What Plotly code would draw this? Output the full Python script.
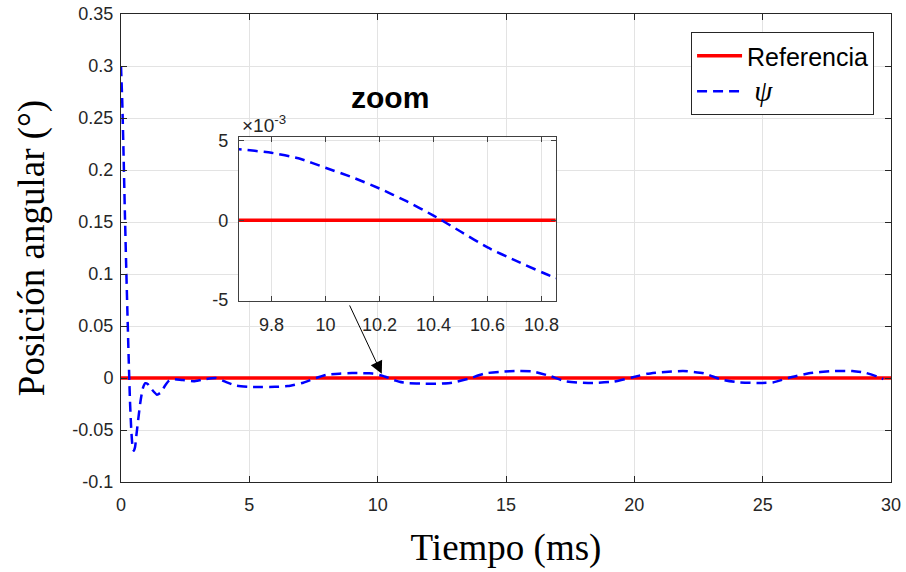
import plotly.graph_objects as go

# time (ms) and angular position (deg)
t = [0.0, 0.05, 0.1, 0.15, 0.2, 0.25, 0.3, 0.35, 0.4, 0.45, 0.5, 0.55, 0.6, 0.67,
     0.75, 0.85, 0.95, 1.05, 1.2, 1.4, 1.55, 1.7, 1.85, 2.0, 2.4, 2.9, 3.3, 3.7,
     4.1, 4.5, 5.0, 5.5, 6.0, 6.5, 7.1, 7.6, 8.0, 8.5, 9.0, 9.4, 9.68, 9.8, 9.9,
     10.0, 10.1, 10.2, 10.3, 10.4, 10.5, 10.6, 10.7, 10.85, 11.0, 11.2, 11.8,
     12.4, 12.9, 13.5, 14.2, 14.8, 15.5, 16.0, 16.7, 17.3, 17.9, 18.4, 19.2,
     19.9, 20.5, 21.0, 21.9, 22.7, 23.4, 24.0, 24.8, 25.4, 26.0, 26.8, 27.7,
     28.5, 29.0, 29.5, 29.7]
psi = [0.300, 0.265, 0.215, 0.160, 0.110, 0.063, 0.018, -0.022, -0.050, -0.066,
       -0.070, -0.066, -0.055, -0.040, -0.024, -0.010, -0.005, -0.006, -0.011,
       -0.016, -0.014, -0.008, -0.003, -0.001, -0.002, -0.003, -0.001, 0.0,
       -0.004, -0.0074, -0.0085, -0.0086, -0.0085, -0.0078, -0.0045, 0.0, 0.003,
       0.0042, 0.0047, 0.0047, 0.00446, 0.00424, 0.0039, 0.0033, 0.0027, 0.0020,
       0.0012, 0.0003, -0.0007, -0.0017, -0.0025, -0.0036, -0.0043, -0.0049,
       -0.0055, -0.0055, -0.0045, -0.001, 0.0045, 0.006, 0.0068, 0.0065, 0.002,
       -0.003, -0.0045, -0.0048, -0.0035, 0.0005, 0.004, 0.0055, 0.0067, 0.0045,
       -0.0015, -0.004, -0.0048, -0.0043, 0.0, 0.0045, 0.0067, 0.0067, 0.005,
       0.001, -0.001]
t_ref = [0, 30]
ref = [0, 0]

main_yticks = [-0.1, -0.05, 0, 0.05, 0.1, 0.15, 0.2, 0.25, 0.3, 0.35]
main_ylabels = ['-0.1', '-0.05', '0', '0.05', '0.1', '0.15', '0.2', '0.25', '0.3', '0.35']
zoom_xticks = [9.8, 10, 10.2, 10.4, 10.6, 10.8]
zoom_yticks = [-0.005, 0, 0.005]
zoom_ylabels = ['-5', '0', '5']

SANS = 'Liberation Sans, Arial'
SERIF = 'Liberation Serif, Times New Roman'
AX = '#262626'
GRID = '#e3e3e3'

fig = go.Figure()

fig.add_trace(go.Scatter(x=t_ref, y=ref, mode='lines', name='Referencia',
                         line=dict(color='#ff0000', width=3.5)))
fig.add_trace(go.Scatter(x=t, y=psi, mode='lines',
                         name='<span style="font-family:Liberation Serif;font-size:29px">'
                              '<i>\u00a0ψ</i></span>',
                         line=dict(color='#0000ff', width=2.5, dash='10px,6px',
                                   shape='spline', smoothing=0.5)))

# inset
fig.add_trace(go.Scatter(x=t_ref, y=ref, mode='lines', showlegend=False,
                         xaxis='x2', yaxis='y2', line=dict(color='#ff0000', width=3.5)))
fig.add_trace(go.Scatter(x=t, y=psi, mode='lines', showlegend=False,
                         xaxis='x2', yaxis='y2',
                         line=dict(color='#0000ff', width=2.5, dash='10px,6px',
                                   shape='spline', smoothing=0.5)))

fig.add_annotation(x=10.16, y=0.004, ax=8.88, ay=0.0712, xref='x', yref='y',
                   axref='x', ayref='y', showarrow=True, arrowhead=2,
                   arrowsize=2.5, arrowwidth=1, arrowcolor='black', text='')
fig.add_annotation(x=0.349, y=0.8226, xref='paper', yref='paper', showarrow=False,
                   xanchor='center', yanchor='middle',
                   text='<b>zoom</b>', font=dict(family=SANS, size=30, color='black'))
fig.add_annotation(x=0.1545, y=0.735, xref='paper', yref='paper', showarrow=False,
                   xanchor='left', yanchor='bottom', text='×10<sup>-3</sup>',
                   font=dict(family=SANS, size=19, color=AX))

fig.update_layout(
    width=906, height=572,
    margin=dict(l=121, r=15, t=14, b=90, autoexpand=False),
    paper_bgcolor='white', plot_bgcolor='white',
    showlegend=True,
    legend=dict(x=0.978, y=0.9615, xanchor='right', yanchor='top',
                bgcolor='white', bordercolor=AX, borderwidth=1,
                font=dict(family=SANS, size=25, color='black'),
                itemwidth=45, tracegroupgap=0),
    xaxis=dict(range=[0, 30], domain=[0, 1], tickvals=[0, 5, 10, 15, 20, 25, 30],
               showgrid=True, gridcolor=GRID, zeroline=False, automargin=False,
               showline=True, linecolor=AX, linewidth=1, mirror='ticks',
               ticks='inside', ticklen=6, tickcolor=AX, ticklabelstandoff=6,
               ticklabeloverflow='allow',
               tickfont=dict(family=SANS, size=18, color=AX),
               title=dict(text='Tiempo (ms)', standoff=20,
                          font=dict(family=SERIF, size=37, color='black'))),
    yaxis=dict(range=[-0.1, 0.35], domain=[0, 1], tickvals=main_yticks,
               ticktext=main_ylabels,
               showgrid=True, gridcolor=GRID, zeroline=False, automargin=False,
               showline=True, linecolor=AX, linewidth=1, mirror='ticks',
               ticks='inside', ticklen=6, tickcolor=AX, ticklabelstandoff=3,
               ticklabeloverflow='allow',
               tickfont=dict(family=SANS, size=18, color=AX),
               title=dict(text='Posición angular (°)', standoff=16,
                          font=dict(family=SERIF, size=37, color='black'))),
    xaxis2=dict(range=[9.68, 10.852], domain=[0.1532, 0.5645], anchor='y2',
                tickvals=zoom_xticks, showgrid=True, gridcolor=GRID, zeroline=False,
                showline=True, linecolor='#404040', linewidth=1, mirror='ticks',
                ticks='inside', ticklen=5, tickcolor='#404040', ticklabelstandoff=8,
                tickfont=dict(family=SANS, size=18, color=AX)),
    yaxis2=dict(range=[-0.00504, 0.00521], domain=[0.3874, 0.7365], anchor='x2',
                tickvals=zoom_yticks, ticktext=zoom_ylabels,
                showgrid=True, gridcolor=GRID, zeroline=False,
                showline=True, linecolor='#404040', linewidth=1, mirror='ticks',
                ticks='inside', ticklen=5, tickcolor='#404040', ticklabelstandoff=6,
                tickfont=dict(family=SANS, size=18, color=AX)),
)

# drop the browser's default 8px body margin so the figure fills the window
fig.write_html('out.html', config={'displayModeBar': False},
               post_script="document.body.style.margin='0';document.body.style.overflow='hidden';")
